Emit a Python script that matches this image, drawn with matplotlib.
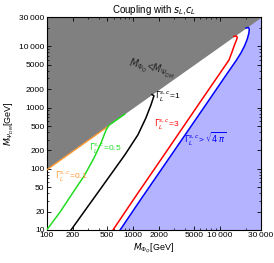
import matplotlib
matplotlib.use('Agg')
import matplotlib.pyplot as plt
import matplotlib.ticker as ticker

# --- data (M_PhiQ, M_PsiDM) in GeV ---
blue_mq = [706, 1219, 3035, 7560, 11900, 15670, 17610, 19370, 20860, 21760, 21990, 21520, 20140]
blue_mdm = [10, 31.4, 205, 1343, 3436, 6030, 7850, 10200, 13270, 16620, 18980, 20450, 20000]

red_mq = [584, 1007, 2500, 6195, 9770, 12830, 13880, 14830, 15640, 15960, 15640, 14620]
red_mdm = [10, 31.4, 205, 1343, 3436, 6030, 8140, 10600, 12780, 14030, 14850, 14590]

black_mq = [191, 413, 803, 1136, 1406, 1607, 1739, 1650]
black_mdm = [10, 45.7, 170, 361, 684, 1115, 1561, 1640]

green_mq = [100, 143, 196, 270, 352, 424, 485, 525, 800]
green_mdm = [10, 19.7, 38.7, 76.1, 150, 263, 429, 515, 785]

orange_mq = [100, 510]
orange_mdm = [96, 492]

diag = [100, 30000]
x_ticks = [100, 200, 500, 1000, 2000, 5000, 10000, 30000]
y_ticks = [10, 20, 50, 100, 200, 500, 1000, 2000, 5000, 10000, 30000]


def fmt(v, pos=None):
    v = int(round(v))
    if v >= 10000:
        return f"{v // 1000}\u2009000"
    return str(v)


plt.rcParams['font.family'] = ['Liberation Sans', 'DejaVu Sans']
plt.rcParams['mathtext.fontset'] = 'dejavusans'
plt.rcParams['font.size'] = 6

fig = plt.figure(figsize=(2.74, 2.63), dpi=100)
ax = fig.add_axes([0.1704, 0.1255, 0.782, 0.8087])
ax.set_xscale('log')
ax.set_yscale('log')
ax.set_xlim(100, 30000)
ax.set_ylim(10, 30000)

# excluded regions: perturbativity (light blue) and M_DM > M_Q (gray)
poly_x = list(blue_mq) + [30000, 30000, blue_mq[0]]
poly_y = list(blue_mdm) + [30000, 10, 10]
ax.fill(poly_x, poly_y, color='#b3b3ff', lw=0, zorder=1)
ax.fill_between(diag, diag, [30000, 30000], color='#808080', lw=0, zorder=1.5)

ax.plot(orange_mq, orange_mdm, color='#ff9933', lw=1.0, zorder=3)
ax.plot(green_mq, green_mdm, color='#22dd22', lw=1.1, zorder=3)
ax.plot(black_mq, black_mdm, color='black', lw=1.1, zorder=3)
ax.plot(red_mq, red_mdm, color='#ff0000', lw=1.1, zorder=3)
ax.plot(blue_mq, blue_mdm, color='#0000ff', lw=1.1, zorder=3)

# labels
ax.text(1640, 4300, r'$M_{\Phi_Q}$<$M_{\Psi_{DM}}$', rotation=-13, fontsize=7,
        ha='center', va='center', color='#222222', zorder=4)
ax.text(1780, 1500, r'$\Gamma_L^{s,c}$=1', fontsize=6, color='black', zorder=4,
        ha='left', va='center')
ax.text(2450, 520, r'$\Gamma_L^{s,c}$=3', fontsize=6, color='#ff0000', zorder=4,
        ha='center', va='center')
ax.text(6800, 310, r'$\Gamma_L^{s,c}$> $\sqrt{4\,\pi}$', fontsize=6, color='#0000ff', zorder=4,
        ha='center', va='center')
ax.text(480, 215, r'$\Gamma_L^{s,c}$=0.5', fontsize=6, color='#22dd22', zorder=4,
        ha='center', va='center')
ax.text(190, 75, r'$\Gamma_L^{s,c}$=0.1', fontsize=6, color='#ff9933', zorder=4,
        ha='center', va='center')

ax.set_xticks(x_ticks)
ax.set_yticks(y_ticks)
ax.xaxis.set_major_formatter(ticker.FuncFormatter(fmt))
ax.yaxis.set_major_formatter(ticker.FuncFormatter(fmt))
ax.xaxis.set_minor_formatter(ticker.NullFormatter())
ax.yaxis.set_minor_formatter(ticker.NullFormatter())
ax.tick_params(which='both', direction='in', top=True, right=True, labelsize=6, pad=1.5)
ax.tick_params(which='major', length=3, width=0.6)
ax.tick_params(which='minor', length=1.5, width=0.5)
for s in ax.spines.values():
    s.set_linewidth(0.8)

ax.set_title(r'Coupling with $s_L$,$c_L$', fontsize=7, pad=3)
ax.set_xlabel(r'$M_{\Phi_Q}$[GeV]', fontsize=6.5, labelpad=2)
ax.set_ylabel(r'$M_{\Psi_{DM}}$[GeV]', fontsize=6.5, labelpad=2)

fig.savefig('out.png', dpi=100)
